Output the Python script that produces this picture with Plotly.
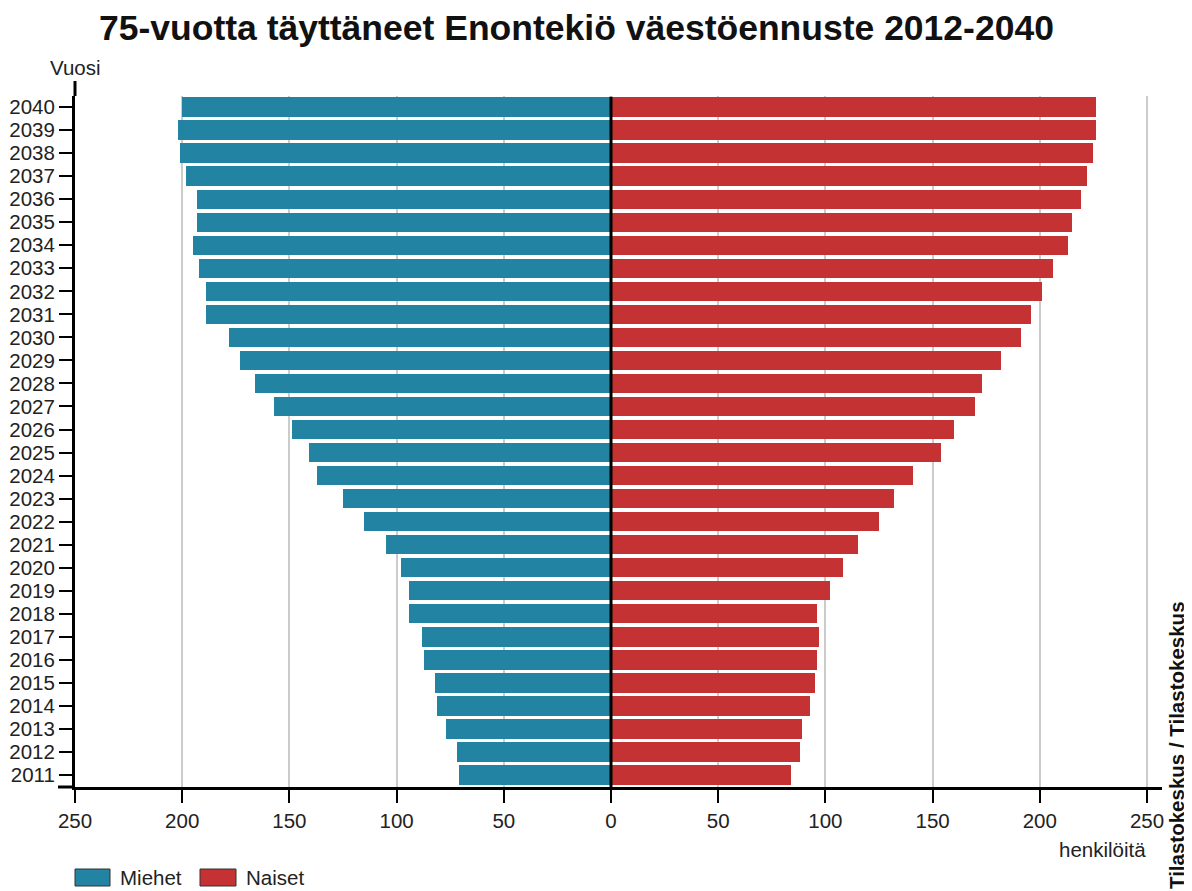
import plotly.graph_objects as go

years = list(range(2011, 2041))
miehet = [71, 72, 77, 81, 82, 87, 88, 94, 94, 98,
          105, 115, 125, 137, 141, 149, 157, 166, 173, 178,
          189, 189, 192, 195, 193, 193, 198, 201, 202, 200]
naiset = [84, 88, 89, 93, 95, 96, 97, 96, 102, 108,
          115, 125, 132, 141, 154, 160, 170, 173, 182, 191,
          196, 201, 206, 213, 215, 219, 222, 225, 226, 226]
x_ticks = [-250, -200, -150, -100, -50, 0, 50, 100, 150, 200, 250]
x_labels = [str(abs(v)) for v in x_ticks]

BLUE = "#2383A3"
RED = "#C43234"
FONT = "Liberation Sans, Arial, sans-serif"
FS = 20.5

# page has an 8px body margin; figure coords = page coords - 8
OFF = 8
W, H = 1192 - OFF, 891 - OFF
PL, PR, PT, PB = 75, 1162, 96, 787   # plot box in page pixels
L = PL - OFF
T = PT - OFF
R = W - (PR - OFF)
B = H - (PB - OFF)
pw = W - L - R
ph = H - T - B


def px_x(v):
    return (v - PL) / pw


def px_y(v):
    return 1 - (v - PT) / ph


fig = go.Figure()
fig.add_trace(go.Bar(
    y=years, x=[-v for v in miehet], orientation="h", name="Miehet",
    marker=dict(color=BLUE, line=dict(width=0)), width=0.84,
    customdata=miehet, hovertemplate="%{y}: %{customdata}<extra>Miehet</extra>"))
fig.add_trace(go.Bar(
    y=years, x=naiset, orientation="h", name="Naiset",
    marker=dict(color=RED, line=dict(width=0)), width=0.84,
    hovertemplate="%{y}: %{x}<extra>Naiset</extra>"))

fig.update_layout(
    width=W, height=H,
    margin=dict(l=L, r=R, t=T, b=B, pad=0, autoexpand=False),
    paper_bgcolor="white", plot_bgcolor="white",
    barmode="overlay", bargap=0, showlegend=False,
    font=dict(family=FONT, size=FS, color="#222"),
    xaxis=dict(range=[-250, 257], tickvals=x_ticks, ticktext=x_labels,
               automargin=False,
               showgrid=True, gridcolor="#cccccc", gridwidth=1.5,
               zeroline=False, showline=True, linecolor="black", linewidth=3,
               ticks="outside", ticklen=13, tickwidth=2, tickcolor="black",
               tickfont=dict(size=FS, color="#222"), fixedrange=True),
    yaxis=dict(range=[2010.48, 2040.48], tickvals=years,
               ticktext=[str(y) for y in years], automargin=False,
               showgrid=False, zeroline=False, showline=True,
               linecolor="black", linewidth=3,
               ticks="outside", ticklen=13, tickwidth=2, tickcolor="black",
               tickfont=dict(size=FS, color="#222"), fixedrange=True),
)

# title
fig.add_annotation(text="<b>75-vuotta täyttäneet Enontekiö väestöennuste 2012-2040</b>",
                   xref="paper", yref="paper", x=px_x(576), y=px_y(28),
                   xanchor="center", yanchor="middle", showarrow=False,
                   font=dict(family=FONT, size=35.5, color="#111"))

# center line at zero
fig.add_shape(type="line", xref="x", yref="y", x0=0, x1=0,
              y0=2010.48, y1=2040.45, line=dict(color="black", width=3))
# axis line extensions
fig.add_shape(type="line", xref="paper", yref="paper",
              x0=px_x(58), x1=0, y0=0, y1=0,
              line=dict(color="black", width=3))
fig.add_shape(type="line", xref="paper", yref="paper",
              x0=0, x1=0, y0=1, y1=px_y(81),
              line=dict(color="black", width=3))

# axis titles
fig.add_annotation(text="Vuosi", xref="paper", yref="paper",
                   x=px_x(75), y=px_y(67), xanchor="center", yanchor="middle",
                   showarrow=False, font=dict(size=FS, color="#222"))
fig.add_annotation(text="henkilöitä", xref="paper", yref="paper",
                   x=px_x(1148), y=px_y(850),
                   xanchor="right", yanchor="middle",
                   showarrow=False, font=dict(size=FS, color="#222"))
fig.add_annotation(text="<b>Tilastokeskus / Tilastokeskus</b>", xref="paper", yref="paper",
                   x=px_x(1176), y=px_y(745),
                   xanchor="center", yanchor="middle", textangle=-90,
                   showarrow=False, font=dict(size=20.5, color="#111"))

# legend
for (x0, x1, col, label, tx) in [(75, 110, BLUE, "Miehet", 118), (200, 236, RED, "Naiset", 244)]:
    fig.add_shape(type="rect", xref="paper", yref="paper",
                  x0=px_x(x0), x1=px_x(x1), y0=px_y(886), y1=px_y(869),
                  fillcolor=col, line=dict(color="#333", width=1))
    fig.add_annotation(text=label, xref="paper", yref="paper",
                       x=px_x(tx), y=px_y(877), xanchor="left", yanchor="middle",
                       showarrow=False, font=dict(size=FS, color="#222"))

fig.write_html("out.html")
